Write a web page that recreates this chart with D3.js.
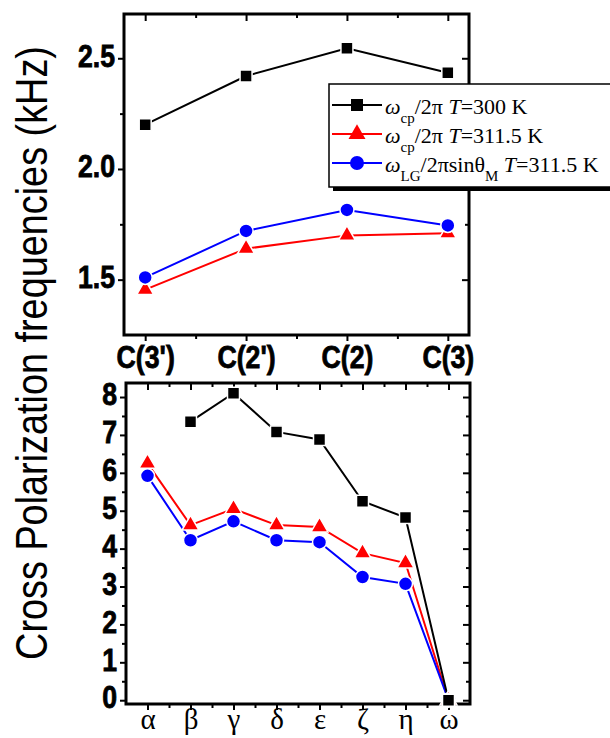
<!DOCTYPE html>
<html><head><meta charset="utf-8">
<script src="https://cdn.jsdelivr.net/npm/d3@7"></script>
<style>body{margin:0;background:#fff}</style>
</head><body><svg id="c" width="610" height="738"></svg>
<script>
// ---- data ----
const topCats = ["C(3')", "C(2')", "C(2)", "C(3)"];
const topBlack = [2.20, 2.42, 2.545, 2.435];
const topRed = [1.455, 1.64, 1.70, 1.71];
const topBlue = [1.51, 1.72, 1.815, 1.745];
const topYTicks = [1.5, 2.0, 2.5];
const topYMinor = [1.75, 2.25];

const botCats = ["α", "β", "γ", "δ", "ε", "ζ", "η", "ω"];
const botBlack = [null, 7.35, 8.1, 7.08, 6.88, 5.25, 4.82, 0];
const botRed = [6.25, 4.62, 5.05, 4.62, 4.57, 3.88, 3.62, 0];
const botBlue = [5.92, 4.22, 4.72, 4.22, 4.17, 3.25, 3.07, 0];
const botYTicks = [0, 1, 2, 3, 4, 5, 6, 7, 8];
const botYMinor = [0.5, 1.5, 2.5, 3.5, 4.5, 5.5, 6.5, 7.5];

const yTitle = "Cross Polarization frequencies (kHz)";

// ---- drawing ----
const svg = d3.select("#c");
const SX = 0.86;
const sym = {
  black: d3.symbol().type(d3.symbolSquare).size(144)(),
  red: d3.symbol().type(d3.symbolTriangle).size(125)(),
  blue: d3.symbol().type(d3.symbolCircle).size(154)()
};
const col = {black: "#000", red: "#ff0000", blue: "#0000ff"};

function boldText(sel, size) {
  sel.style("font-family", "'Liberation Sans', Arial, sans-serif")
    .style("font-weight", "bold").style("font-size", size + "px")
    .attr("fill", "#000").attr("stroke", "#000").attr("stroke-width", 0.8);
}

function panel(o) {
  const x = d3.scaleLinear().domain(o.xDom).range([o.left, o.right]);
  const y = d3.scaleLinear().domain(o.yDom).range([o.bottom, o.top]);
  const g = svg.append("g");
  const idx = o.cats.map((d, i) => i);
  const minorX = idx.slice(0, -1).map(i => i + 0.5);

  g.append("rect").attr("x", o.left).attr("y", o.top)
    .attr("width", o.right - o.left).attr("height", o.bottom - o.top)
    .attr("fill", "none").attr("stroke", "#000").attr("stroke-width", 3);

  function styleAx(sel) {
    sel.select(".domain").remove();
    sel.selectAll("line").attr("stroke-width", 2);
  }
  const la = g.append("g").attr("transform", `translate(${o.left},0)`)
    .call(d3.axisLeft(y).tickValues(o.yTicks).tickSize(6).tickPadding(4.5).tickFormat(o.yFmt));
  styleAx(la);
  boldText(la.selectAll("text"), 31);
  la.selectAll("text").attr("dy", "0.25em").attr("transform", `scale(${SX},1)`);
  styleAx(g.append("g").attr("transform", `translate(${o.left},0)`)
    .call(d3.axisLeft(y).tickValues(o.yMinor).tickSize(4).tickFormat("")));
  styleAx(g.append("g").attr("transform", `translate(${o.right},0)`)
    .call(d3.axisRight(y).tickValues(o.yTicks).tickSize(-7).tickFormat("")));
  styleAx(g.append("g").attr("transform", `translate(${o.right},0)`)
    .call(d3.axisRight(y).tickValues(o.yMinor).tickSize(-4).tickFormat("")));
  styleAx(g.append("g").attr("transform", `translate(0,${o.top})`)
    .call(d3.axisTop(x).tickValues(idx).tickSize(-7).tickFormat("")));
  styleAx(g.append("g").attr("transform", `translate(0,${o.top})`)
    .call(d3.axisTop(x).tickValues(minorX).tickSize(-4).tickFormat("")));
  const ba = g.append("g").attr("transform", `translate(0,${o.bottom})`)
    .call(d3.axisBottom(x).tickValues(idx).tickSize(6).tickPadding(o.xPad).tickFormat(i => o.cats[i]));
  styleAx(ba);
  if (o.xBold) {
    boldText(ba.selectAll("text"), o.xSize);
    ba.selectAll("text").attr("transform", `scale(${SX},1)`);
  } else {
    ba.selectAll("text").style("font-family", "'Liberation Serif', 'Times New Roman', serif")
      .style("font-size", o.xSize + "px").attr("fill", "#000");
  }
  styleAx(g.append("g").attr("transform", `translate(0,${o.bottom})`)
    .call(d3.axisBottom(x).tickValues(minorX).tickSize(4).tickFormat("")));

  const line = d3.line().defined(d => d != null).x((d, i) => x(i)).y(d => y(d));
  o.series.forEach(s => {
    g.append("path").attr("d", line(s.v)).attr("fill", "none")
      .attr("stroke", col[s.c]).attr("stroke-width", 2);
  });
  o.series.forEach(s => {
    g.selectAll(null).data(s.v.map((v, i) => ({v, i})).filter(d => d.v != null))
      .enter().append("path").attr("d", sym[s.c])
      .attr("transform", d => `translate(${x(d.i)},${y(d.v)})`)
      .attr("fill", col[s.c]).attr("stroke", "#fff").attr("stroke-width", 1.5);
  });
}

panel({
  left: 124, right: 469, top: 14, bottom: 335,
  xDom: [-0.21, 3.21], yDom: [1.25, 2.7],
  cats: topCats, yTicks: topYTicks, yMinor: topYMinor, yFmt: d3.format(".1f"),
  xBold: true, xSize: 31, xPad: 5,
  series: [{c: "red", v: topRed}, {c: "blue", v: topBlue}, {c: "black", v: topBlack}]
});

// legend
const lg = svg.append("g");
lg.append("rect").attr("x", 333).attr("y", 88).attr("width", 300).attr("height", 103).attr("fill", "#000");
lg.append("rect").attr("x", 329).attr("y", 84).attr("width", 300).attr("height", 103)
  .attr("fill", "#fff").attr("stroke", "#000").attr("stroke-width", 1.5);
const legRows = [
  {c: "black", y: 105, parts: [["ω","i"],["cp","sub"],["/2π ",""],["T","i"],["=300 K",""]]},
  {c: "red", y: 134, parts: [["ω","i"],["cp","sub"],["/2π ",""],["T","i"],["=311.5 K",""]]},
  {c: "blue", y: 163, parts: [["ω","i"],["LG","sub"],["/2πsinθ",""],["M","sub"],[" ",""],["T","i"],["=311.5 K",""]]}
];
legRows.forEach(r => {
  lg.append("line").attr("x1", 332).attr("x2", 382).attr("y1", r.y).attr("y2", r.y)
    .attr("stroke", col[r.c]).attr("stroke-width", 2);
  lg.append("path").attr("d", sym[r.c]).attr("transform", `translate(357,${r.y})`)
    .attr("fill", col[r.c]);
  const t = lg.append("text").attr("x", 385).attr("y", r.y + 9)
    .style("font-family", "'Liberation Serif', 'Times New Roman', serif").style("font-size", "22px").attr("fill", "#000");
  let prevSub = false;
  r.parts.forEach(p => {
    const ts = t.append("tspan").text(p[0]);
    if (p[1] === "i") ts.style("font-style", "italic");
    if (p[1] === "sub") { ts.style("font-size", "15px").attr("dy", 9); prevSub = true; }
    else if (prevSub) { ts.attr("dy", -9); prevSub = false; }
  });
});

panel({
  left: 126, right: 470, top: 383, bottom: 704,
  xDom: [-0.5, 7.5], yDom: [-0.1, 8.37],
  cats: botCats, yTicks: botYTicks, yMinor: botYMinor, yFmt: d3.format("d"),
  xBold: false, xSize: 29, xPad: -2,
  series: [{c: "red", v: botRed}, {c: "blue", v: botBlue}, {c: "black", v: botBlack}]
});

svg.append("text").attr("transform", `translate(47,353) rotate(-90) scale(${SX},1)`)
  .attr("text-anchor", "middle").style("font-family", "'Liberation Sans', Arial, sans-serif")
  .style("font-size", "44px").attr("fill", "#000").text(yTitle);
</script></body></html>
